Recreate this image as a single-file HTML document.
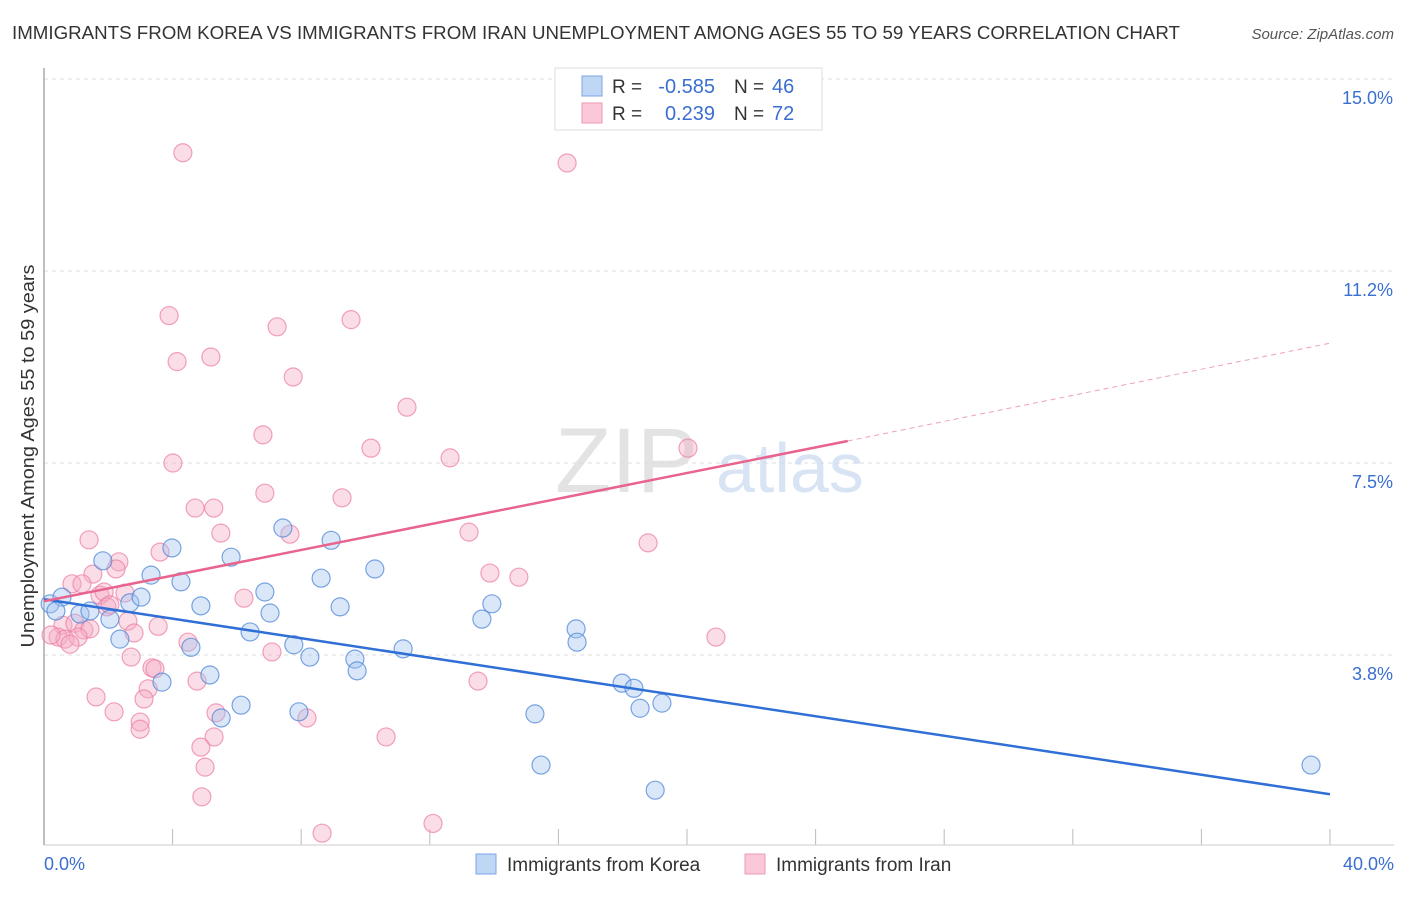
<!DOCTYPE html>
<html><head><meta charset="utf-8"><style>
body{margin:0;background:#fff;font-family:"Liberation Sans",sans-serif}
svg text{font-family:"Liberation Sans",sans-serif}
</style></head><body>
<svg id="chart" width="1406" height="892" viewBox="0 0 1406 892" xmlns="http://www.w3.org/2000/svg">
<text x="12" y="39" font-size="18.6" fill="#333" textLength="1168" lengthAdjust="spacingAndGlyphs">IMMIGRANTS FROM KOREA VS IMMIGRANTS FROM IRAN UNEMPLOYMENT AMONG AGES 55 TO 59 YEARS CORRELATION CHART</text>
<text x="1394" y="39" font-size="15" fill="#555" text-anchor="end" font-style="italic">Source: ZipAtlas.com</text>
<g id="grid"></g>
<text x="555" y="492" font-size="92" fill="#ddd" font-family="Liberation Serif" opacity="0.8">ZIP</text>
<text x="716" y="492" font-size="70" fill="#c8daf0" opacity="0.7">atlas</text>
<line x1="44" y1="68" x2="44" y2="845" stroke="#aaa" stroke-width="1.5"/>
<line x1="44" y1="845" x2="1394" y2="845" stroke="#ccc"/>
<text transform="translate(34,456) rotate(-90)" font-size="18" fill="#333" text-anchor="middle" textLength="383" lengthAdjust="spacingAndGlyphs">Unemployment Among Ages 55 to 59 years</text>
<text x="44" y="870" font-size="18" fill="#3a6fd0">0.0%</text>
<text x="1394" y="870" font-size="18" fill="#3a6fd0" text-anchor="end">40.0%</text>
<g id="points"></g>
<g id="lines"></g>
<g>
<rect x="555" y="68" width="267" height="62" fill="#fff" stroke="#ddd"/>
<rect x="582" y="76" width="20" height="20" fill="#c0d6f5" stroke="#7aa6e4"/>
<rect x="582" y="103" width="20" height="20" fill="#fac8d8" stroke="#ee99b6"/>
<text x="612" y="93" font-size="19" fill="#333">R =</text>
<text x="715" y="93" font-size="20" fill="#3a6fd0" text-anchor="end">-0.585</text>
<text x="734" y="93" font-size="19" fill="#333">N =</text>
<text x="772" y="93" font-size="20" fill="#3a6fd0">46</text>
<text x="612" y="120" font-size="19" fill="#333">R =</text>
<text x="715" y="120" font-size="20" fill="#3a6fd0" text-anchor="end">0.239</text>
<text x="734" y="120" font-size="19" fill="#333">N =</text>
<text x="772" y="120" font-size="20" fill="#3a6fd0">72</text>
</g>
<g>
<rect x="476" y="854" width="20" height="20" fill="#c0d6f5" stroke="#7aa6e4"/>
<text x="507" y="871" font-size="19" fill="#333">Immigrants from Korea</text>
<rect x="745" y="854" width="20" height="20" fill="#fac8d8" stroke="#ee99b6"/>
<text x="776" y="871" font-size="19" fill="#333">Immigrants from Iran</text>
</g>
</svg>
<script>
const yTicks=[3.75,7.5,11.25,15];
const yTickLabels=["3.8%","7.5%","11.2%","15.0%"];
const xTicks=[0,4,8,12,16,20,24,28,32,36,40];
const koreaX=[0.19,0.56,0.37,1.12,1.43,1.83,2.05,2.36,2.67,3.02,3.33,3.67,3.98,4.26,4.57,4.88,5.16,5.51,5.82,6.13,6.41,6.87,7.03,7.43,7.77,7.93,8.27,8.62,8.93,9.21,9.67,9.74,10.29,11.17,13.62,13.93,15.27,15.46,16.55,16.58,17.98,18.35,18.54,19.01,19.22,39.41];
const koreaY=[4.75,4.88,4.61,4.55,4.61,5.59,4.45,4.06,4.77,4.88,5.31,3.22,5.84,5.18,3.90,4.71,3.36,2.52,5.66,2.77,4.20,4.98,4.57,6.23,3.95,2.64,3.71,5.25,5.99,4.69,3.67,3.44,5.43,3.87,4.45,4.75,2.60,1.60,4.26,4.00,3.20,3.10,2.71,1.11,2.81,1.60];
const iranX=[4.32,16.27,3.89,7.25,9.55,4.14,5.19,7.75,11.29,6.81,10.17,4.01,12.63,20.03,6.87,9.27,4.70,5.28,5.50,7.65,13.22,1.40,18.79,3.61,2.33,2.24,1.52,13.87,14.77,0.87,1.18,1.74,1.87,2.52,6.22,1.96,2.05,2.61,3.55,0.59,0.96,1.24,1.43,2.80,0.44,0.65,1.06,0.81,4.48,7.09,2.71,20.90,3.36,3.45,4.76,13.50,3.24,1.62,3.11,2.18,5.35,8.18,2.99,2.99,5.29,10.64,4.88,5.01,4.91,8.65,12.10,0.22];
const iranY=[13.56,13.36,10.38,10.16,10.30,9.48,9.57,9.18,8.59,8.05,7.79,7.50,7.60,7.79,6.91,6.82,6.62,6.62,6.13,6.11,6.15,6.00,5.94,5.76,5.57,5.43,5.33,5.35,5.27,5.14,5.14,4.92,4.98,4.96,4.86,4.69,4.73,4.41,4.31,4.33,4.37,4.24,4.26,4.18,4.10,4.06,4.10,3.96,4.00,3.81,3.71,4.10,3.50,3.48,3.24,3.24,3.09,2.93,2.89,2.64,2.62,2.52,2.44,2.30,2.15,2.15,1.95,1.56,0.98,0.27,0.46,4.14];
const koreaFit=[[0,4.84],[40,1.03]];
const iranFit=[[0,4.80],[25,7.93],[40,9.84]];
const X=v=>44+v/40*1286, Y=v=>847-v/3.75*192;
const NS="http://www.w3.org/2000/svg";
function mk(tag,attrs,parent){const e=document.createElementNS(NS,tag);for(const k in attrs)e.setAttribute(k,attrs[k]);parent.appendChild(e);return e;}
const grid=document.getElementById('grid');
yTicks.forEach((t,i)=>{
 const l=mk('line',{x1:44,x2:1394,y1:Y(t),y2:Y(t),stroke:'#ddd','stroke-dasharray':'4,4'},grid);
 
 
 const tx=mk('text',{x:1393,y:Y(t)+25,'font-size':18,fill:'#3a6fd0','text-anchor':'end'},grid);
 tx.textContent=yTickLabels[i];
 
 
});
xTicks.forEach(t=>{
 const l=mk('line',{x1:X(t),x2:X(t),y1:829,y2:845,stroke:'#bbb'},grid);
 
 
});
const pts=document.getElementById('points');
iranX.forEach((v,i)=>{
 const c=mk('circle',{cx:X(v),cy:Y(iranY[i]),r:9,fill:'rgba(246,170,196,0.4)',stroke:'rgba(236,130,165,0.75)','stroke-width':1.2},pts);
 
 
});
koreaX.forEach((v,i)=>{
 const c=mk('circle',{cx:X(v),cy:Y(koreaY[i]),r:9,fill:'rgba(160,195,240,0.4)',stroke:'rgba(80,135,215,0.75)','stroke-width':1.2},pts);
 
 
});
const ln=document.getElementById('lines');
const kl=mk('line',{x1:X(koreaFit[0][0]),y1:Y(koreaFit[0][1]),x2:X(koreaFit[1][0]),y2:Y(koreaFit[1][1]),stroke:'#2f6fd6','stroke-width':2.5},ln);


const il=mk('line',{x1:X(iranFit[0][0]),y1:Y(iranFit[0][1]),x2:X(iranFit[1][0]),y2:Y(iranFit[1][1]),stroke:'#e8648e','stroke-width':2.5},ln);


const id=mk('line',{x1:X(iranFit[1][0]),y1:Y(iranFit[1][1]),x2:X(iranFit[2][0]),y2:Y(iranFit[2][1]),stroke:'#eea0b8','stroke-width':1,'stroke-dasharray':'5,4'},ln);


</script>
</body></html>
